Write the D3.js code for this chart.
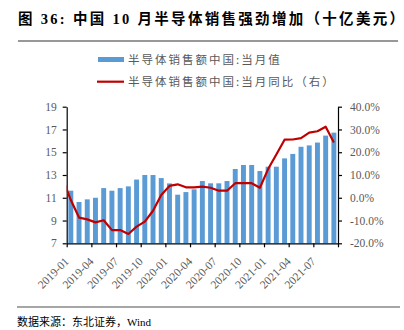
<!DOCTYPE html>
<html><head><meta charset="utf-8">
<script src="https://cdn.jsdelivr.net/npm/d3@7/dist/d3.min.js"></script>
<style>body{margin:0;background:#fff}svg{display:block}</style>
</head><body>
<svg id="c" width="404" height="330"></svg>
<script>
const months = ["2019-01","2019-02","2019-03","2019-04","2019-05","2019-06","2019-07","2019-08","2019-09","2019-10","2019-11","2019-12",
  "2020-01","2020-02","2020-03","2020-04","2020-05","2020-06","2020-07","2020-08","2020-09","2020-10","2020-11","2020-12",
  "2021-01","2021-02","2021-03","2021-04","2021-05","2021-06","2021-07","2021-08","2021-09"];
const salesValues = [11.62,10.63,10.86,11.0,11.85,11.62,11.85,12.0,12.6,13.0,13.0,12.73,
  12.26,11.27,11.5,11.74,12.47,12.27,12.27,12.47,13.53,13.88,13.88,13.35,
  13.73,13.73,14.46,14.85,15.48,15.6,15.85,16.46,16.72];
const yoyValues = [-1.0,-8.7,-9.5,-10.8,-9.9,-14.2,-14.2,-15.9,-12.7,-10.5,-5.7,1.2,
  5.2,5.9,4.6,4.6,4.9,4.4,3.1,3.1,6.4,6.4,6.4,4.4,
  12.6,19.0,25.5,25.6,26.2,28.6,29.2,31.2,24.3];
// the line enters from the left edge of the plot (previous month, clipped)
const leadYoY = 8.5;
const leftTicks = [7,9,11,13,15,17,19];
const rightTicks = [-20,-10,0,10,20,30,40];
const xTickLabels = ["2019-01","2019-04","2019-07","2019-10","2020-01","2020-04","2020-07","2020-10","2021-01","2021-04","2021-07"];
const titleText = "图 36: 中国 10 月半导体销售强劲增加（十亿美元）";
const legendBar = "半导体销售额中国:当月值";
const legendLine = "半导体销售额中国:当月同比（右）";
const sourceText = "数据来源：东北证券，Wind";

const svg = d3.select("#c");
const L = 66.7, R = 338, T = 106.7, B = 243.3;
const gray = "#595959", blue = "#5b9bd5", red = "#c00000";
const serif = "'Liberation Serif','Noto Sans CJK SC',serif";

const x = d3.scaleBand().domain(months).range([L, R]).paddingInner(0.4).paddingOuter(0.2);
const step = x.step();
const cx = m => x(m) + x.bandwidth() / 2;
const yL = d3.scaleLinear().domain([7, 19]).range([B, T]);
const yR = d3.scaleLinear().domain([-20, 40]).range([B, T]);

// title
svg.append("text").attr("x", 18).attr("y", 24)
  .attr("font-family", serif).attr("font-weight", "bold").attr("font-size", 14.5)
  .attr("textLength", 386).attr("lengthAdjust", "spacing")
  .attr("fill", "#000").text(titleText);
svg.append("line").attr("x1", 18).attr("x2", 398).attr("y1", 41).attr("y2", 41)
  .attr("stroke", "#333").attr("stroke-width", 1.2);

// legend
svg.append("rect").attr("x", 98).attr("y", 57).attr("width", 26).attr("height", 5).attr("fill", blue);
svg.append("text").attr("x", 128).attr("y", 59.5).attr("dy", "0.35em")
  .attr("font-family", "'Noto Sans CJK SC',sans-serif").attr("font-size", 11.5)
  .attr("letter-spacing", 2).attr("fill", gray).text(legendBar);
svg.append("line").attr("x1", 97).attr("x2", 124).attr("y1", 81.7).attr("y2", 81.7)
  .attr("stroke", red).attr("stroke-width", 2.2);
svg.append("text").attr("x", 128).attr("y", 81.7).attr("dy", "0.35em")
  .attr("font-family", "'Noto Sans CJK SC',sans-serif").attr("font-size", 11.5)
  .attr("letter-spacing", 2).attr("fill", gray).text(legendLine);

// bars
svg.append("g").selectAll("rect").data(months).join("rect")
  .attr("x", m => x(m)).attr("width", x.bandwidth())
  .attr("y", (m, i) => yL(salesValues[i]))
  .attr("height", (m, i) => B - yL(salesValues[i]))
  .attr("fill", blue);

// axes
function styleAxis(g) {
  g.select(".domain").attr("stroke", "#000").attr("stroke-width", 1.2);
  g.selectAll(".tick line").attr("stroke", "#000").attr("stroke-width", 1.2);
  g.selectAll(".tick text").attr("fill", gray).attr("font-family", serif).attr("font-size", 11.5);
}
svg.append("g").attr("transform", `translate(${L},0)`)
  .call(d3.axisLeft(yL).tickValues(leftTicks).tickSize(4).tickSizeOuter(0).tickPadding(6))
  .call(styleAxis);
svg.append("g").attr("transform", `translate(${R},0)`)
  .call(d3.axisRight(yR).tickValues(rightTicks).tickSize(4).tickSizeOuter(0).tickPadding(8)
    .tickFormat(d => d.toFixed(1) + "%"))
  .call(styleAxis);
const xi = d3.scaleLinear().domain([0, months.length]).range([L, R]);
svg.append("g").attr("transform", `translate(0,${B})`)
  .call(d3.axisBottom(xi).tickValues(d3.range(0, months.length + 1, 3)).tickSize(4).tickSizeOuter(0).tickFormat(""))
  .call(styleAxis);
svg.append("g").selectAll("text").data(xTickLabels).join("text")
  .attr("transform", d => `translate(${cx(d) - 4},${B + 16}) rotate(-45)`)
  .attr("text-anchor", "end").attr("dy", "0.35em")
  .attr("font-family", serif).attr("font-size", 11.5).attr("fill", gray)
  .text(d => d);

// line (clipped to the plot area)
svg.append("clipPath").attr("id", "clip").append("rect")
  .attr("x", L).attr("y", T - 10).attr("width", R - L).attr("height", B - T + 20);
const pts = [[cx(months[0]) - step, yR(leadYoY)]].concat(months.map((m, i) => [cx(m), yR(yoyValues[i])]));
svg.append("path").attr("clip-path", "url(#clip)")
  .attr("d", d3.line()(pts)).attr("fill", "none")
  .attr("stroke", red).attr("stroke-width", 2.2).attr("stroke-linejoin", "round");

// source
svg.append("line").attr("x1", 17).attr("x2", 400).attr("y1", 307).attr("y2", 307)
  .attr("stroke", "#888").attr("stroke-width", 1.5);
svg.append("text").attr("x", 17).attr("y", 326)
  .attr("font-family", serif).attr("font-size", 11).attr("fill", "#000").text(sourceText);
</script>
</body></html>
